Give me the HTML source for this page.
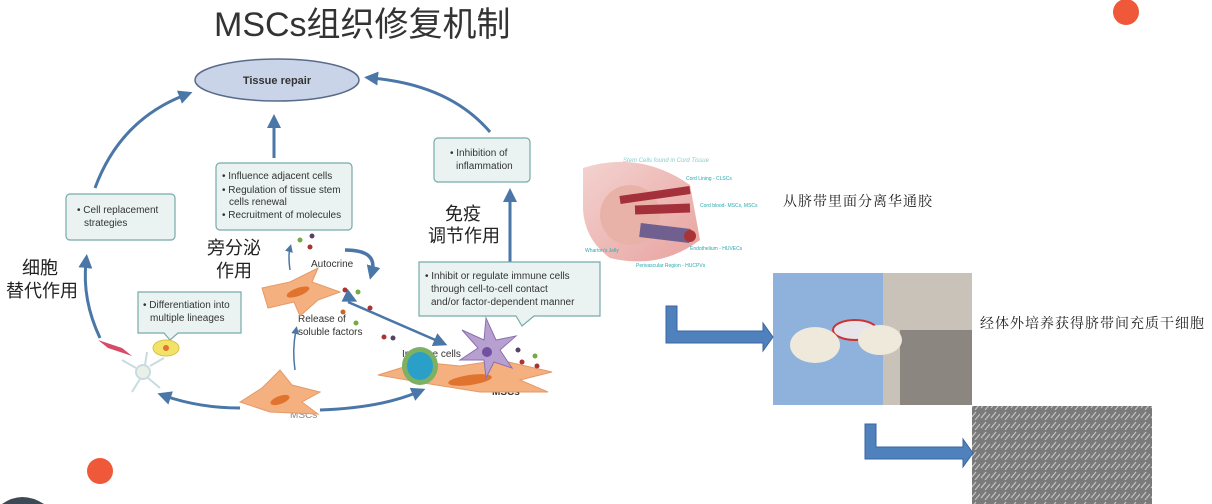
<!DOCTYPE html>
<html><head><meta charset="utf-8"><style>
html,body{margin:0;padding:0;background:#fff;}
body{width:1212px;height:504px;overflow:hidden;position:relative;font-family:"Liberation Sans","Noto Sans CJK SC",sans-serif;}
</style></head><body>
<svg width="1212" height="504" viewBox="0 0 1212 504" xmlns="http://www.w3.org/2000/svg" style="position:absolute;left:0;top:0;overflow:hidden">
<defs>
<marker id="ah" markerWidth="8" markerHeight="8" refX="4" refY="4" orient="auto" markerUnits="userSpaceOnUse" viewBox="0 0 8 8"><path d="M0,0 L8,4 L0,8 z" fill="#4a76a8"/></marker>
<marker id="ahb" markerWidth="14" markerHeight="14" refX="6" refY="7" orient="auto" markerUnits="userSpaceOnUse"><path d="M0,0 L14,7 L0,14 z" fill="#4a76a8"/></marker>
<linearGradient id="cord" x1="0" y1="0" x2="1" y2="1"><stop offset="0" stop-color="#f3d2cf"/><stop offset="1" stop-color="#e8a3a0"/></linearGradient>
<pattern id="cells" width="10" height="10" patternUnits="userSpaceOnUse"><rect width="10" height="10" fill="#7a7a7a"/><path d="M1,8 L6,2 M5,10 L10,4" stroke="#c4c4c4" stroke-width="1.2"/></pattern>
</defs>
<text x="214" y="36" font-size="34" fill="#333" font-family="Liberation Sans,Noto Sans CJK SC,sans-serif">MSCs组织修复机制</text>
<circle cx="1126" cy="12" r="13" fill="#f0583a"/>
<circle cx="100" cy="471" r="13" fill="#f0583a"/>
<path d="M2,504 Q22,490 44,504 Z" fill="#3d4a55"/>
<!-- ellipse -->
<ellipse cx="277" cy="80" rx="82" ry="21" fill="#c9d4e8" stroke="#5a6a8a" stroke-width="1.5"/>
<text x="277" y="84" font-size="11" font-weight="bold" fill="#333" text-anchor="middle">Tissue repair</text>
<!-- arcs -->
<g fill="none" stroke="#4a76a8" stroke-width="3">
<path d="M95,188 Q120,120 185,95" marker-end="url(#ahb)"/>
<path d="M490,132 Q450,85 372,78" marker-end="url(#ahb)"/>
<path d="M274,158 L274,122" marker-end="url(#ahb)"/>
<path d="M510,262 L510,196" marker-end="url(#ahb)"/>
<path d="M100,338 Q82,300 86,262" marker-end="url(#ahb)"/>
<path d="M240,408 Q200,408 165,396" marker-end="url(#ahb)"/>
<path d="M320,410 Q380,408 418,392" marker-end="url(#ahb)"/>
<path d="M348,302 L440,342" stroke-width="2.5" marker-end="url(#ahb)"/>
<path d="M350,298 L346,296" stroke-width="2.5" marker-end="url(#ahb)" transform="rotate(180 348 297)"/>
<path d="M345,250 Q378,250 372,272" stroke-width="3.5" marker-end="url(#ahb)"/>
<path d="M290,270 Q288,255 290,248" stroke-width="1.5" marker-end="url(#ah)"/>
<path d="M295,370 Q292,350 296,330" stroke-width="1.5" marker-end="url(#ah)"/>
</g>
<!-- boxes -->
<g fill="#eaf3f2" stroke="#7aa" stroke-width="1.2">
<rect x="66" y="194" width="109" height="46" rx="4"/>
<rect x="216" y="163" width="136" height="67" rx="4"/>
<rect x="434" y="138" width="96" height="44" rx="4"/>
<path d="M138,292 H241 V333 H178 L170,340 L164,333 H138 Z"/>
<path d="M419,262 H600 V316 H534 L522,326 L516,316 H419 Z"/>
</g>
<g font-size="10" fill="#333">
<text x="77" y="213">• Cell replacement</text><text x="84" y="226">strategies</text>
<text x="222" y="179">• Influence adjacent cells</text>
<text x="222" y="193">• Regulation of tissue stem</text>
<text x="229" y="205">cells renewal</text>
<text x="222" y="218">• Recruitment of molecules</text>
<text x="450" y="156">• Inhibition of</text><text x="456" y="169">inflammation</text>
<text x="143" y="308">• Differentiation into</text><text x="150" y="321">multiple lineages</text>
<text x="425" y="279">• Inhibit or regulate immune cells</text>
<text x="431" y="292">through cell-to-cell contact</text>
<text x="431" y="305">and/or factor-dependent manner</text>
<text x="311" y="267">Autocrine</text>
<text x="298" y="322">Release of</text><text x="298" y="335">soluble factors</text>
<text x="402" y="357">Immune cells</text>
<text x="492" y="395" font-weight="bold">MSCs</text>
<text x="290" y="418" fill="#888">MSCs</text>
</g>
<g font-size="18" fill="#222" font-family="Liberation Sans,Noto Sans CJK SC,sans-serif">
<text x="22" y="274">细胞</text><text x="6" y="297">替代作用</text>
<text x="207" y="254">旁分泌</text><text x="216" y="277">作用</text>
<text x="445" y="220">免疫</text><text x="428" y="242">调节作用</text>
</g>
<!-- cells -->
<g fill="#f5b07f" stroke="#e49a66" stroke-width="1">
<path d="M262,288 L290,282 L318,268 L312,282 L340,292 L318,300 L300,316 L294,302 L268,308 Z"/>
<path d="M240,402 L262,388 L280,370 L292,385 L320,392 L302,402 L318,414 L270,412 Z"/>
<path d="M378,375 L420,362 L460,366 L500,360 L552,372 L520,380 L548,392 L480,392 L430,384 Z"/>
</g>
<g fill="#e0742e"><ellipse cx="298" cy="292" rx="12" ry="4" transform="rotate(-20 298 292)"/><ellipse cx="280" cy="400" rx="10" ry="4" transform="rotate(-20 280 400)"/><ellipse cx="470" cy="380" rx="22" ry="5" transform="rotate(-8 470 380)"/></g>
<ellipse cx="420" cy="366" rx="18" ry="19" fill="#7cb063"/><ellipse cx="420" cy="366" rx="13" ry="14" fill="#2aa0c8"/>
<path d="M486,318 L484,340 L462,330 L478,348 L460,360 L484,360 L486,378 L494,362 L512,368 L500,350 L516,336 L496,340 Z" fill="#b7a0d0" stroke="#8a70b0"/>
<circle cx="487" cy="352" r="5" fill="#7050a0"/>
<path d="M98,340 L122,348 L132,356 L108,348 Z" fill="#d64a6a"/>
<ellipse cx="166" cy="348" rx="13" ry="8" fill="#f3e26a" stroke="#d8c440"/><circle cx="166" cy="348" r="3" fill="#e0742e"/>
<g stroke="#c9dbe0" stroke-width="2" fill="none"><circle cx="143" cy="372" r="7" fill="#e9f0e8"/><path d="M136,368 L122,360 M150,366 L164,358 M140,379 L132,392 M148,378 L160,388 M145,365 L147,352"/></g>
<g><circle cx="300" cy="240" r="2.5" fill="#7a4"/><circle cx="312" cy="236" r="2.5" fill="#546"/><circle cx="310" cy="247" r="2.5" fill="#a33"/><circle cx="345" cy="290" r="2.5" fill="#a33"/><circle cx="358" cy="292" r="2.5" fill="#7a4"/><circle cx="343" cy="312" r="2.5" fill="#c62"/><circle cx="370" cy="308" r="2.5" fill="#a33"/><circle cx="356" cy="323" r="2.5" fill="#7a4"/><circle cx="384" cy="337" r="2.5" fill="#a33"/><circle cx="393" cy="338" r="2.5" fill="#546"/><circle cx="518" cy="350" r="2.5" fill="#546"/><circle cx="535" cy="356" r="2.5" fill="#7a4"/><circle cx="537" cy="366" r="2.5" fill="#a33"/><circle cx="522" cy="362" r="2.5" fill="#a33"/></g>
<!-- cord image -->
<text x="623" y="162" font-size="6" fill="#8cc" font-style="italic">Stem Cells found in Cord Tissue</text>
<path d="M583,168 Q640,150 690,185 L700,240 Q660,270 610,258 Q585,240 583,210 Z" fill="url(#cord)"/>
<ellipse cx="630" cy="215" rx="30" ry="30" fill="#e9b2a8"/>
<path d="M620,200 L690,190" stroke="#a3303a" stroke-width="8"/>
<path d="M635,210 L690,208" stroke="#a3303a" stroke-width="9"/>
<path d="M640,230 L690,236" stroke="#6f6090" stroke-width="14"/>
<circle cx="690" cy="236" r="6" fill="#a33"/>
<g font-size="5" fill="#2aa8b0"><text x="686" y="180">Cord Lining - CLSCs</text><text x="700" y="207">Cord blood- MSCs, MSCs</text><text x="690" y="250">Endothelium - HUVECs</text><text x="585" y="252">Wharton's Jelly</text><text x="636" y="267">Perivascular Region - HUCPVs</text></g>
<text x="783" y="206" font-size="14" fill="#222" letter-spacing="1" font-family="Liberation Serif,Noto Serif CJK SC,serif">从脐带里面分离华通胶</text>
<!-- photo -->
<rect x="773" y="273" width="199" height="132" fill="#c9c2b8"/>
<rect x="773" y="273" width="110" height="132" fill="#8fb2dc"/>
<rect x="900" y="330" width="72" height="75" fill="#8b8680"/>
<ellipse cx="855" cy="330" rx="22" ry="10" fill="#e7e4ea" stroke="#c33" stroke-width="2"/>
<ellipse cx="815" cy="345" rx="25" ry="18" fill="#efe9dc"/>
<ellipse cx="880" cy="340" rx="22" ry="15" fill="#efe9dc"/>
<text x="980" y="328" font-size="14" fill="#222" letter-spacing="1" font-family="Liberation Serif,Noto Serif CJK SC,serif">经体外培养获得脐带间充质干细胞</text>
<rect x="972" y="406" width="180" height="98" fill="url(#cells)"/>
<!-- bent arrows -->
<g fill="#4f81bd" stroke="#3a64a0" stroke-width="1">
<path d="M666,306 H677 V331 H763 V323 L773,337 L763,351 V343 H666 Z"/>
<path d="M865,424 H876 V447 H963 V439 L973,453 L963,467 V459 H865 Z"/>
</g>
</svg>
</body></html>
